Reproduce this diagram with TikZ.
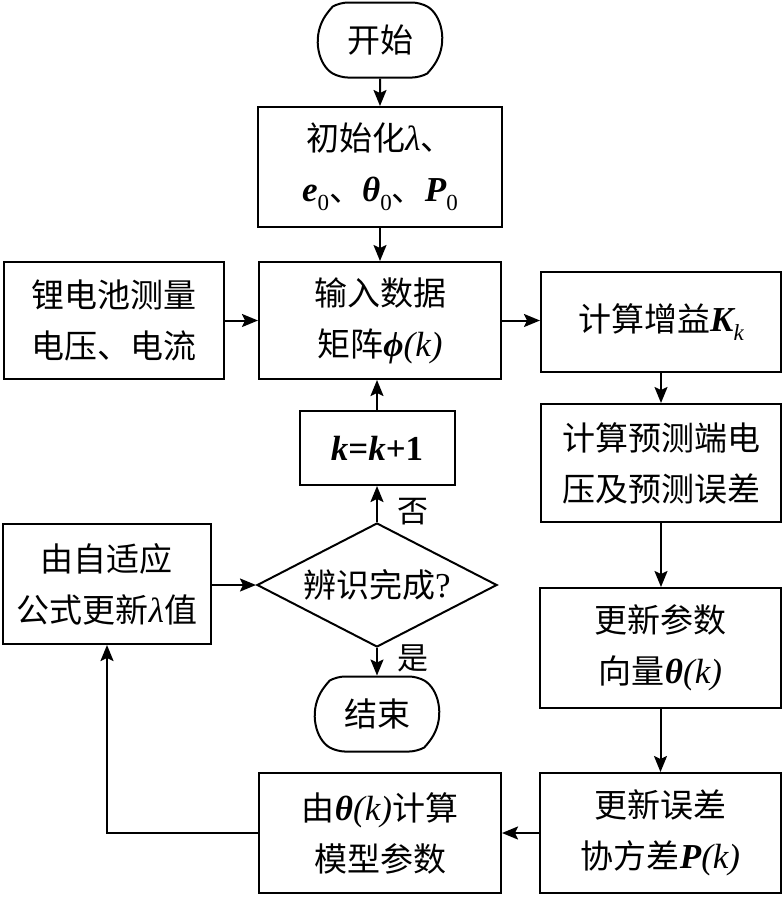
\documentclass[tikz,border=0pt]{standalone}
\usepackage{fontspec}
\setmainfont{Liberation Serif}
\newfontfamily\cjk{Noto Sans CJK SC}
\usetikzlibrary{arrows.meta,shapes.geometric,shapes.misc,calc}
\newcommand\mymi[1]{{\rmfamily\itshape\fontsize{35}{51}\selectfont #1}}
\newcommand\mymb[1]{{\rmfamily\bfseries\itshape\fontsize{35}{51}\selectfont #1}}
\newcommand\mysub[1]{\raisebox{-0.28em}{\fontsize{23}{23}\selectfont\rmfamily #1}}
\tikzset{
  every node/.style={font=\cjk\fontsize{33}{51}\selectfont},
  box/.style={draw, line width=2pt, rectangle, align=center, inner sep=0pt},
  term/.style={draw, line width=2pt, rounded rectangle, rounded rectangle arc length=120, rounded corners=8pt, align=center, inner sep=0pt, minimum width=124pt, minimum height=75pt},
  decide/.style={draw, line width=2pt, diamond, aspect=1.94, inner sep=0pt, minimum width=240pt, minimum height=124pt},
  arr/.style={line width=2pt, -{Stealth[length=16pt,width=13pt,inset=3pt]}},
  lbl/.style={font=\cjk\fontsize{31}{31}\selectfont, inner sep=0pt}
}
\begin{document}
\begin{tikzpicture}[x=1pt,y=-1pt]
\useasboundingbox (0,0) rectangle (783,898);
\node[term] (start) at (380,40) {开始};
\node[box, minimum width=244pt, minimum height=120pt] (init) at (380,167) {初始化\mymi{λ}、\\\mymb{e}\mysub{0}、\mymb{θ}\mysub{0}、\mymb{P}\mysub{0}};
\node[box, minimum width=242pt, minimum height=117pt] (input) at (380,320.5) {输入数据\\矩阵\mymb{ϕ}\mymi{(k)}};
\node[box, minimum width=220pt, minimum height=117pt] (li) at (114,320.5) {锂电池测量\\电压、电流};
\node[box, minimum width=240pt, minimum height=100pt] (gain) at (661,322) {计算增益\mymb{K}\mysub{\itshape k}};
\node[box, minimum width=155pt, minimum height=74pt] (kk) at (377,448) {\rmfamily\bfseries\fontsize{35}{35}\selectfont\textit{k}=\textit{k}+1};
\node[decide] (dia) at (377,585) {辨识完成{\rmfamily\fontsize{35}{35}\selectfont ?}};
\node[box, minimum width=208pt, minimum height=120pt] (adapt) at (107,584) {由自适应\\公式更新\mymi{λ}值};
\node[term] (end) at (377,714) {结束};
\node[box, minimum width=240pt, minimum height=118pt] (pred) at (661,463) {计算预测端电\\压及预测误差};
\node[box, minimum width=241pt, minimum height=120pt] (upd) at (660.5,648) {更新参数\\向量\mymb{θ}\mymi{(k)}};
\node[box, minimum width=241pt, minimum height=120pt] (err) at (660.5,833) {更新误差\\协方差\mymb{P}\mymi{(k)}};
\node[box, minimum width=242pt, minimum height=120pt] (model) at (380,833) {由\mymb{θ}\mymi{(k)}计算\\模型参数};
\draw[arr] (start) -- (init);
\draw[arr] (init) -- (input);
\draw[arr] (li.east) -- (li.east -| input.west);
\draw[arr] (input.east) -- (input.east -| gain.west);
\draw[arr] (gain.south) -- (gain.south |- pred.north);
\draw[arr] (pred.south) -- (pred.south |- upd.north);
\draw[arr] (upd.south) -- (upd.south |- err.north);
\draw[arr] (err.west) -- (model.east);
\draw[arr] (model.west) -| (adapt.south);
\draw[arr] (adapt.east |- dia.west) -- (dia.west);
\draw[arr] (dia.north) -- (kk.south);
\draw[arr] (kk.north) -- (kk.north |- input.south);
\draw[arr] (dia.south) -- (end.north);
\node[lbl] (no) at (413,512) {否};
\node[lbl] (yes) at (413,658) {是};
\end{tikzpicture}
\end{document}
